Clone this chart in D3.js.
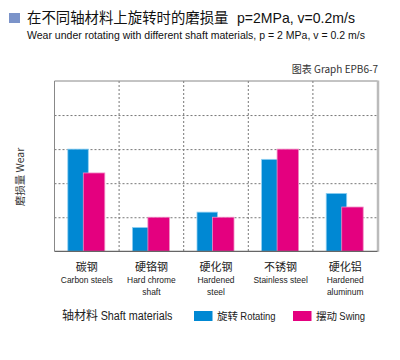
<!DOCTYPE html>
<html><head><meta charset="utf-8">
<script src="https://cdn.jsdelivr.net/npm/d3@7"></script>
<style>
body{margin:0;background:#fff;}
svg{display:block;}
</style></head>
<body>
<svg id="c" width="400" height="360"></svg>
<script>
const categoriesCN = ["碳钢","硬铬钢","硬化钢","不锈钢","硬化铝"];
const categoriesEN = [["Carbon steels"],["Hard chrome","shaft"],["Hardened","steel"],["Stainless steel"],["Hardened","aluminum"]];
const rotating = [3.0, 0.7, 1.15, 2.7, 1.7];
const swing = [2.3, 1.0, 1.0, 3.0, 1.3];
const yTicks = [0,1,2,3,4,5];

const svg = d3.select("#c");
const cjk = "'Noto Sans CJK SC','Noto Sans',sans-serif";
const latin = "'Liberation Sans',Arial,sans-serif";
const blue = "#0088d3", pink = "#e4007f";

function condense(sel, f){
  sel.each(function(){
    const len = this.getComputedTextLength();
    d3.select(this).attr("textLength", len*f).attr("lengthAdjust","spacingAndGlyphs");
  });
  return sel;
}

const L = 54.5, R = 377.5, T = 81, B = 251.3;
const x = d3.scaleBand().domain(d3.range(categoriesCN.length)).range([L, R]);
const y = d3.scaleLinear().domain([0,5]).range([B, T]);

// title
svg.append("rect").attr("x",9).attr("y",13).attr("width",11).attr("height",10).attr("fill","#7b93c9");
const tt = svg.append("text").attr("x",27).attr("y",23).attr("font-size",14.4).attr("fill","#111");
tt.append("tspan").attr("font-family",cjk).text("在不同轴材料上旋转时的磨损量");
tt.append("tspan").attr("x",237).attr("font-family",latin).attr("font-size",14.6).text("p=2MPa, v=0.2m/s")
  .call(s=>{s.attr("textLength",118).attr("lengthAdjust","spacingAndGlyphs");});
svg.append("text").attr("x",27).attr("y",39).attr("font-family",latin).attr("font-size",11.5).attr("fill","#111")
  .attr("textLength",338).attr("lengthAdjust","spacingAndGlyphs")
  .text("Wear under rotating with different shaft materials, p = 2 MPa, v = 0.2 m/s");
svg.append("text").attr("x",378).attr("y",73).attr("text-anchor","end").attr("font-family",cjk).attr("font-size",10).attr("fill","#333")
  .text("图表 Graph EPB6-7");

// grid
const g = svg.append("g");
g.append("g").attr("transform",`translate(${L},0)`)
  .call(d3.axisLeft(y).tickValues(yTicks.slice(1,-1)).tickSize(-(R-L)).tickFormat(""))
  .call(s=>s.select(".domain").remove())
  .call(s=>s.selectAll("line").attr("stroke","#777").attr("stroke-dasharray","2,2"));
const bounds = d3.range(1,categoriesCN.length).map(i=>x(i));
g.selectAll("line.v").data(bounds).join("line").attr("class","v")
  .attr("x1",d=>d).attr("x2",d=>d).attr("y1",T).attr("y2",B)
  .attr("stroke","#777").attr("stroke-dasharray","2,2");

// bars
const cx = i => x(i) + x.bandwidth()/2;
svg.selectAll("rect.b").data(rotating).join("rect").attr("class","b")
  .attr("x",(d,i)=>cx(i)-19).attr("width",20.5)
  .attr("y",d=>y(d)).attr("height",d=>B-y(d))
  .attr("fill",blue).attr("stroke","#8fd0f2").attr("stroke-width",0.8);
svg.selectAll("rect.p").data(swing).join("rect").attr("class","p")
  .attr("x",(d,i)=>cx(i)-3.5).attr("width",21.5)
  .attr("y",d=>y(d)).attr("height",d=>B-y(d))
  .attr("fill",pink).attr("stroke","#f08cc4").attr("stroke-width",0.8);

// frame
svg.append("line").attr("x1",L).attr("x2",R).attr("y1",T).attr("y2",T).attr("stroke","#888").attr("stroke-width",1);
svg.append("line").attr("x1",L).attr("x2",L).attr("y1",T).attr("y2",B).attr("stroke","#888").attr("stroke-width",1);
svg.append("line").attr("x1",R+0.5).attr("x2",R+0.5).attr("y1",T-0.5).attr("y2",B+0.5).attr("stroke","#bbb").attr("stroke-width",2.5);
svg.append("line").attr("x1",L).attr("x2",R).attr("y1",B).attr("y2",B).attr("stroke","#666").attr("stroke-width",1.2);

// y label
svg.append("text").attr("transform",`translate(24,177) rotate(-90)`).attr("text-anchor","middle")
  .attr("font-family",cjk).attr("font-size",10.5).attr("fill","#333").text("磨损量 Wear");

// x labels
const xl = svg.selectAll("g.xl").data(categoriesCN).join("g").attr("class","xl")
  .attr("transform",(d,i)=>`translate(${cx(i)},0)`);
xl.append("text").attr("y",271).attr("text-anchor","middle").attr("font-family",cjk).attr("font-size",11).attr("fill","#222").text(d=>d);
xl.each(function(d,i){
  d3.select(this).selectAll("text.en").data(categoriesEN[i]).join("text").attr("class","en")
    .attr("y",(t,j)=>283+j*11.8).attr("text-anchor","middle").attr("font-family",latin).attr("font-size",9.8).attr("fill","#222").text(t=>t)
    .call(condense,0.86);
});

// legend
const lg = svg.append("text").attr("x",62).attr("y",320).attr("font-size",12).attr("fill","#222");
lg.append("tspan").attr("font-family",cjk).text("轴材料 ");
lg.append("tspan").attr("font-family",latin).attr("font-size",12.5).text("Shaft materials")
  .call(s=>{const n=s.node(); s.attr("textLength",n.getComputedTextLength()*0.86).attr("lengthAdjust","spacingAndGlyphs");});
svg.append("rect").attr("x",194).attr("y",311).attr("width",18.5).attr("height",10).attr("fill",blue);
const l1 = svg.append("text").attr("x",217).attr("y",320).attr("font-size",10.5).attr("fill","#222");
l1.append("tspan").attr("font-family",cjk).text("旋转 ");
l1.append("tspan").attr("font-family",latin).attr("font-size",11).text("Rotating")
  .call(s=>{const n=s.node(); s.attr("textLength",n.getComputedTextLength()*0.86).attr("lengthAdjust","spacingAndGlyphs");});
svg.append("rect").attr("x",293).attr("y",311).attr("width",18.5).attr("height",10).attr("fill",pink);
const l2 = svg.append("text").attr("x",316).attr("y",320).attr("font-size",10.5).attr("fill","#222");
l2.append("tspan").attr("font-family",cjk).text("摆动 ");
l2.append("tspan").attr("font-family",latin).attr("font-size",11).text("Swing")
  .call(s=>{const n=s.node(); s.attr("textLength",n.getComputedTextLength()*0.86).attr("lengthAdjust","spacingAndGlyphs");});
</script>
</body></html>
